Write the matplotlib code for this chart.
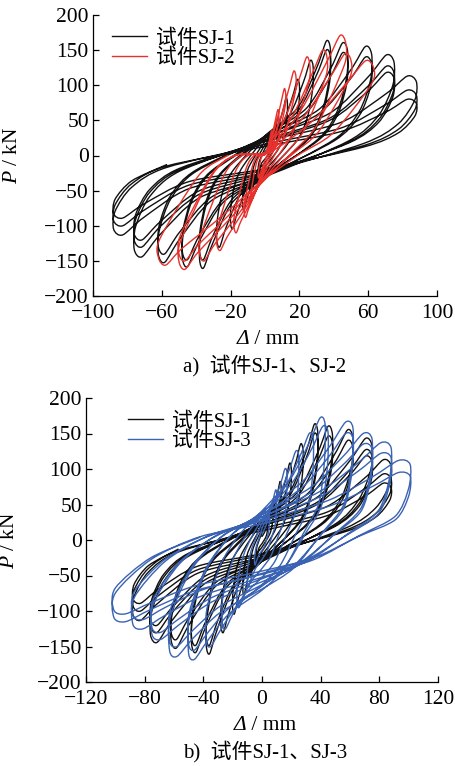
import matplotlib
matplotlib.use("Agg")
import matplotlib.pyplot as plt
from matplotlib.path import Path
from matplotlib.patches import PathPatch
from matplotlib.lines import Line2D

plt.rcParams['font.family'] = ['Liberation Serif', 'Noto Sans CJK SC', 'DejaVu Sans']
plt.rcParams['mathtext.fontset'] = 'custom'
plt.rcParams['mathtext.rm'] = 'Liberation Serif'
plt.rcParams['mathtext.it'] = 'Liberation Serif:italic'
plt.rcParams['axes.unicode_minus'] = True

# ---------------- data ----------------
# Specimen SJ-1 hysteresis record: displacement (mm) and load (kN)
sj1_disp = [
    0, 2, 3.2, 3.8, 4, 4, 3.5, 2.6, 0, -2, -3.2, -3.8, -4, -4, -3.5, -2.6,
    0, 4, 6.4, 7.5, 8, 7.9, 7, 5.2, 0, -4, -6.4, -7.5, -8, -7.9, -7, -5.2,
    0, 6.5, 10.4, 12.2, 13, 12.9, 11.4, 8.5, 0, -6.5, -10.4, -12.2, -13, -12.9, -11.4, -8.5,
    0, 10, 16, 18.8, 20, 19.8, 17.6, 13, 0, -10, -16, -18.8, -20, -19.8, -17.6, -13,
    0, 14, 22.4, 26.3, 28, 27.7, 24.6, 18.2, 0, -14, -22.4, -26.3, -28, -27.7, -24.6, -18.2,
    0, 19, 30.4, 35.7, 38, 37.6, 33.4, 24.7, 0, -19, -30.4, -35.7, -38, -37.6, -33.4, -24.7,
    0, 19, 30.4, 35.7, 38, 37.6, 33.4, 24.7, 0, -19, -30.4, -35.7, -38, -37.6, -33.4, -24.7,
    0, 24, 38.4, 45, 48, 47.5, 42.2, 31.2, 0, -24, -38.4, -45, -48, -47.5, -42.2, -31.2,
    0, 24, 38.4, 45, 48, 47.5, 42.2, 31.2, 0, -24, -38.4, -45, -48, -47.5, -42.2, -31.2,
    0, 31, 49.6, 58.3, 62, 61.4, 54.6, 40.3, 0, -31, -49.6, -58.3, -62, -61.4, -54.6, -40.3,
    0, 31, 49.6, 58.3, 62, 61.4, 54.6, 40.3, 0, -31, -49.6, -58.3, -62, -61.4, -54.6, -40.3,
    0, 37.5, 60, 70.5, 75, 74.3, 66, 48.8, 0, -38, -60.8, -71.4, -76, -75.2, -66.9, -49.4,
    0, 37.5, 60, 70.5, 75, 74.3, 66, 48.8, 0, -38, -60.8, -71.4, -76, -75.2, -66.9, -49.4,
    0, 37.5, 60, 70.5, 75, 74.3, 66, 48.8, 0, -38, -60.8, -71.4, -76, -75.2, -66.9, -49.4,
    0, 44, 70.4, 82.7, 88, 87.1, 77.4, 57.2, 0, -44, -70.4, -82.7, -88, -87.1, -77.4, -57.2,
    0, 44, 70.4, 82.7, 88, 87.1, 77.4, 57.2, 0, -44, -70.4, -82.7, -88, -87.1, -77.4, -57.2,
    0, 44, 70.4, 82.7, 88, 87.1, 77.4, 57.2, 0, -44, -70.4, -82.7, -88, -87.1, -77.4, -57.2,
]
sj1_force = [
    5, 12, 22, 28, 26, 20, 11, 4, -5, -11, -20, -26, -24, -18, -10, -4,
    10, 23, 43, 55, 51, 38, 22, 8, -10, -21, -39, -50, -46, -35, -20, -7,
    15, 34, 64, 82, 76, 57, 33, 12, -16, -33, -61, -78, -73, -55, -31, -12,
    20, 45, 84, 108, 100, 76, 43, 16, -21, -44, -81, -104, -97, -73, -42, -16,
    25, 57, 105, 135, 126, 95, 54, 20, -26, -55, -101, -130, -121, -91, -52, -20,
    28, 68, 127, 163, 152, 114, 65, 24, -30, -67, -125, -160, -149, -112, -64, -24,
    26, 63, 117, 150, 140, 105, 60, 22, -28, -62, -115, -148, -138, -104, -59, -22,
    28, 67, 125, 160, 149, 112, 64, 24, -30, -66, -123, -158, -147, -111, -63, -24,
    26, 61, 114, 146, 136, 102, 58, 22, -28, -62, -115, -148, -138, -104, -59, -22,
    27, 65, 121, 155, 144, 108, 62, 23, -30, -64, -119, -152, -141, -106, -61, -23,
    25, 59, 109, 140, 130, 98, 56, 21, -28, -59, -109, -140, -130, -98, -56, -21,
    25, 60, 112, 143, 133, 100, 57, 21, -30, -60, -112, -144, -134, -101, -58, -22,
    22, 53, 99, 127, 118, 89, 51, 19, -27, -55, -101, -130, -121, -91, -52, -20,
    20, 50, 92, 118, 110, 83, 47, 18, -25, -50, -94, -120, -112, -84, -48, -18,
    20, 47, 88, 113, 105, 79, 45, 17, -24, -47, -88, -113, -105, -79, -45, -17,
    16, 39, 73, 93, 86, 65, 37, 14, -21, -42, -78, -100, -93, -70, -40, -15,
    13, 34, 62, 80, 74, 56, 32, 12, -19, -37, -69, -89, -83, -62, -36, -13,
]

# Specimen SJ-2 hysteresis record
sj2_disp = [
    0.2, 1.8, 3.1, 3.7, 4, 3.9, 2.5, 1.2, -0.2, -1.6, -3.1, -3.7, -4, -3.9, -2.5, -1.4,
    0.4, 3.6, 6.2, 7.4, 8, 7.8, 5, 2.4, -0.4, -3.2, -6.2, -7.4, -8, -7.8, -5, -2.8,
    0.6, 5.4, 9.4, 11.2, 12, 11.8, 7.6, 3.6, -0.6, -4.8, -9.4, -11.2, -12, -11.8, -7.4, -4.2,
    0.9, 8.1, 14, 16.7, 18, 17.6, 11.3, 5.4, -0.9, -7.2, -14, -16.7, -18, -17.6, -11.2, -6.3,
    1.3, 11.7, 20.3, 24.2, 26, 25.5, 16.4, 7.8, -1.4, -11.2, -21.8, -26, -28, -27.4, -17.4, -9.8,
    1.8, 16.2, 28, 33.5, 36, 35.3, 22.7, 10.8, -1.9, -15.2, -29.6, -35.3, -38, -37.2, -23.6, -13.3,
    2.4, 21, 36.7, 43.7, 47, 46, 29.6, 14, -2.5, -20, -39, -46.5, -50, -49, -31, -17.5,
    2.5, 22.5, 39, 46.5, 50, 49, 31.5, 15, -2.5, -20, -39, -46.5, -50, -49, -31, -17.5,
    3.2, 28.4, 49, 58.6, 63, 61.7, 39.7, 18.9, -3.1, -24.8, -48.4, -57.7, -62, -60.8, -38.4, -21.7,
]
sj2_force = [
    1.4, 13, 28, 35, 32.5, 26, 8.4, 0, -8, -17.6, -27, -32, -30, -24, -5.8, 0,
    2.6, 25, 52, 65, 60, 49, 15.6, 0, -15.5, -34, -53, -62, -58, -46.5, -11, 0,
    4, 36, 76, 95, 88, 71, 23, 0, -22, -48, -75, -88, -82, -66, -16, 0,
    5, 46, 96, 120, 112, 90, 29, 0, -27.5, -60.5, -93.5, -110, -102, -82.5, -20, 0,
    5.6, 53, 112, 140, 130, 105, 34, 0, -34, -74, -115, -135, -126, -101, -24, 0,
    6, 57, 120, 150, 140, 112, 36, 0, -37.5, -82.5, -127.5, -150, -140, -112.5, -27, 0,
    7, 65, 137, 171, 159, 128, 41, 0, -40.5, -89, -138, -162, -151, -121.5, -29, 0,
    6, 55, 116, 145, 135, 109, 35, 0, -37.5, -82.5, -127.5, -150, -140, -112.5, -27, 0,
    5.4, 51, 108, 135, 125.5, 101, 32.4, 0, -39, -86, -132.6, -156, -145, -117, -28, 0,
]

# Specimen SJ-3 hysteresis record
sj3_disp = [
    0.1, 2.2, 3.8, 4.6, 5, 5, 4.5, 3.2, 1.8, 0, -2.2, -3.8, -4.6, -5, -5, -3.8, -2.1,
    0.2, 4.5, 7.5, 9.2, 10, 9.9, 9, 6.5, 3.5, 0, -4.5, -7.5, -9.2, -10, -9.9, -7.5, -4.2,
    0.3, 7.7, 12.8, 15.6, 17, 16.8, 15.3, 11, 6, 0, -7.7, -12.8, -15.6, -17, -16.8, -12.8, -7.1,
    0.5, 11.3, 18.8, 23, 25, 24.8, 22.5, 16.3, 8.8, 0, -12.2, -20.3, -24.8, -27, -26.7, -20.3, -11.3,
    0.7, 15.8, 26.3, 32.2, 35, 34.7, 31.5, 22.8, 12.3, 0, -17.1, -28.5, -35, -38, -37.6, -28.5, -16,
    0.9, 19.4, 32.3, 39.6, 43, 42.6, 38.7, 28, 15, 0, -22.5, -37.5, -46, -50, -49.5, -37.5, -21,
    0.9, 20.3, 33.8, 41.4, 45, 44.6, 40.5, 29.3, 15.8, 0, -22.5, -37.5, -46, -50, -49.5, -37.5, -21,
    1.2, 27.9, 46.5, 57, 62, 61.4, 55.8, 40.3, 21.7, 0, -28.4, -47.3, -58, -63, -62.4, -47.3, -26.5,
    1.2, 27.9, 46.5, 57, 62, 61.4, 55.8, 40.3, 21.7, 0, -28.4, -47.3, -58, -63, -62.4, -47.3, -26.5,
    1.5, 33.8, 56.3, 69, 75, 74.3, 67.5, 48.8, 26.3, 0, -33.8, -56.3, -69, -75, -74.3, -56.3, -31.5,
    1.5, 33.8, 56.3, 69, 75, 74.3, 67.5, 48.8, 26.3, 0, -33.8, -56.3, -69, -75, -74.3, -56.3, -31.5,
    1.8, 39.6, 66, 81, 88, 87.1, 79.2, 57.2, 30.8, 0, -39.6, -66, -81, -88, -87.1, -66, -37,
    1.8, 39.6, 66, 81, 88, 87.1, 79.2, 57.2, 30.8, 0, -39.6, -66, -81, -88, -87.1, -66, -37,
    2, 45.5, 75.8, 93, 101, 100, 90.9, 65.7, 35.4, 0, -45.5, -75.8, -93, -101, -100, -75.8, -42.4,
    2, 45.5, 75.8, 93, 101, 100, 90.9, 65.7, 35.4, 0, -45.5, -75.8, -93, -101, -100, -75.8, -42.4,
]
sj3_force = [
    9, 17.5, 28, 35, 33, 23, 10.5, 1.8, -8.4, -14.7, -21.7, -30, -35, -33, -23, -8.4, 1.4,
    17.5, 35, 56, 70, 66.5, 45.5, 21, 3.5, -15.6, -27.3, -40.3, -55, -65, -62, -42, -15.6, 2.8,
    25, 50, 80, 100, 95, 65, 30, 5, -22.8, -40, -59, -81, -95, -90, -62, -22.8, 4,
    31, 62.5, 100, 125, 119, 81, 37.5, 6, -30, -52.5, -77.5, -106, -125, -119, -81, -30, 5,
    37.5, 75, 120, 150, 142.5, 97.5, 45, 7.5, -36, -63, -93, -127.5, -150, -142.5, -97.5, -36, 6,
    43, 86, 137.6, 172, 163, 112, 51.6, 8.6, -40.3, -70.6, -104, -143, -168, -160, -109, -40.3, 6.9,
    40, 80, 128, 160, 152, 104, 48, 8, -37.2, -65, -96, -132, -155, -147, -101, -37.2, 6.4,
    41.5, 83, 133, 166, 158, 108, 50, 8.3, -39.4, -69, -102, -139, -164, -156, -107, -39.4, 6.6,
    37.5, 75, 120, 150, 142.5, 97.5, 45, 7.5, -36, -63, -93, -127.5, -150, -142.5, -97.5, -36, 6,
    37.5, 75, 120, 150, 142.5, 97.5, 45, 7.5, -33.6, -58.8, -86.8, -119, -140, -133, -91, -33.6, 6,
    33.8, 67.5, 108, 135, 128, 87.8, 40.5, 6.8, -31.2, -54.6, -80.6, -110.5, -130, -123.5, -84.5, -31.2, 5.4,
    34, 68.5, 109.6, 137, 130, 89, 41, 6.9, -30, -52.5, -77.5, -106, -125, -119, -81, -30, 5.5,
    30.5, 61, 97.6, 122, 116, 79.3, 36.6, 6.1, -27, -47, -69.4, -95, -112, -106.4, -72.8, -27, 4.9,
    28, 56, 89.6, 112, 106.4, 72.8, 33.6, 5.6, -27.6, -48.3, -71.3, -97.8, -115, -109, -74.8, -27.6, 4.5,
    23.8, 47.5, 76, 95, 90, 61.8, 28.5, 4.8, -25, -43.7, -64.5, -88.4, -104, -98.8, -67.6, -25, 3.8,
]

labels_a = ['试件SJ-1', '试件SJ-2']
labels_b = ['试件SJ-1', '试件SJ-3']
xticks_a = [-100, -60, -20, 20, 60, 100]
xticks_b = [-120, -80, -40, 0, 40, 80, 120]
yticks = [-200, -150, -100, -50, 0, 50, 100, 150, 200]
xlabel_sym = 'Δ'
xlabel_unit = ' / mm'
ylabel = r'$P$ / kN'
title_a = 'a)  试件SJ-1、SJ-2'
title_b = 'b)  试件SJ-1、SJ-3'

# ---------------- drawing ----------------
W, H = 455, 766
fig = plt.figure(figsize=(W / 100, H / 100), dpi=100)


def px_axes(left, top, right, bottom):
    return fig.add_axes([left / W, 1 - bottom / H, (right - left) / W, (bottom - top) / H])


ax1 = px_axes(93, 15, 437, 296)
ax2 = px_axes(86, 398, 438, 682)

black = '#111111'
red = '#e8312c'
blue = '#3b63b3'
lw = 1.0


def curve(ax, xs, ys, color, tension=1 / 7):
    """Draw the record as a smooth curve passing through every read point."""
    pts = list(zip(xs, ys))
    n = len(pts)
    verts = [pts[0]]
    codes = [Path.MOVETO]
    for i in range(n - 1):
        p0 = pts[i - 1] if i > 0 else pts[i]
        p1 = pts[i]
        p2 = pts[i + 1]
        p3 = pts[i + 2] if i + 2 < n else pts[i + 1]
        c1 = (p1[0] + (p2[0] - p0[0]) * tension, p1[1] + (p2[1] - p0[1]) * tension)
        c2 = (p2[0] - (p3[0] - p1[0]) * tension, p2[1] - (p3[1] - p1[1]) * tension)
        verts += [c1, c2, p2]
        codes += [Path.CURVE4] * 3
    ax.add_patch(PathPatch(Path(verts, codes), facecolor='none', edgecolor=color,
                           lw=lw, joinstyle='round', capstyle='round'))


curve(ax1, sj1_disp, sj1_force, black)
curve(ax1, sj2_disp, sj2_force, red)
curve(ax2, sj1_disp, sj1_force, black)
curve(ax2, sj3_disp, sj3_force, blue)

for ax, xt in ((ax1, xticks_a), (ax2, xticks_b)):
    ax.set_xlim(xt[0], xt[-1])
    ax.set_ylim(-200, 200)
    ax.set_xticks(xt)
    ax.set_yticks(yticks)
    for s in ('top', 'right'):
        ax.spines[s].set_visible(False)
    for s in ('left', 'bottom'):
        ax.spines[s].set_linewidth(0.9)
    ax.tick_params(direction='in', length=4, width=0.9, labelsize=15.5)
    ax.tick_params(axis='y', pad=3)
    ax.tick_params(axis='x', pad=6)
    ax.set_ylabel(ylabel, fontsize=15.5)
    ax.patch.set_alpha(0)

ax1.yaxis.set_label_coords(-0.205, 0.5)
ax2.yaxis.set_label_coords(-0.19, 0.5)

# x labels: italic Δ followed by upright unit
for ax, cx, cy in ((ax1, 265, 340), (ax2, 262, 726)):
    fig.text((cx - 16) / W, 1 - cy / H, xlabel_sym, ha='right', va='center',
             fontsize=15.5, fontstyle='italic')
    fig.text((cx - 16) / W, 1 - cy / H, xlabel_unit, ha='left', va='center',
             fontsize=15.5)

leg_kw = dict(frameon=False, fontsize=15, handlelength=1.7, handletextpad=0.4,
              labelspacing=0.0, borderpad=0, borderaxespad=0, loc='upper left')
ax1.legend(handles=[Line2D([], [], color=black, lw=lw), Line2D([], [], color=red, lw=lw)],
           labels=labels_a, bbox_to_anchor=(0.055, 0.95), **leg_kw)
ax2.legend(handles=[Line2D([], [], color=black, lw=lw), Line2D([], [], color=blue, lw=lw)],
           labels=labels_b, bbox_to_anchor=(0.119, 0.95), **leg_kw)

fig.text(265 / W, 1 - 366 / H, title_a, ha='center', va='center', fontsize=15)
fig.text(265 / W, 1 - 752 / H, title_b, ha='center', va='center', fontsize=15)

fig.savefig('out.png', dpi=100)
